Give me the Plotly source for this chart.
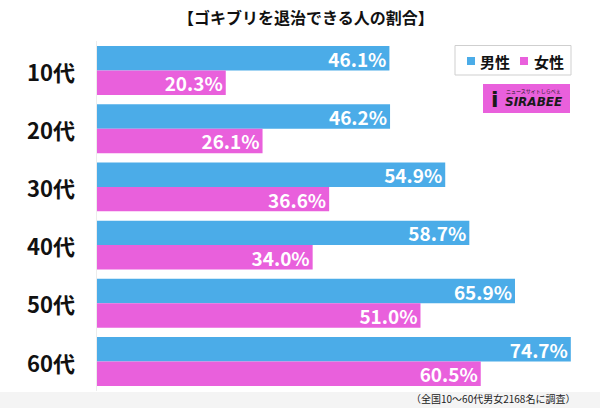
import plotly.graph_objects as go

categories = ["10代", "20代", "30代", "40代", "50代", "60代"]
male = [46.1, 46.2, 54.9, 58.7, 65.9, 74.7]
female = [20.3, 26.1, 36.6, 34.0, 51.0, 60.5]
series_names = ["男性", "女性"]
title_text = "【ゴキブリを退治できる人の割合】"
note_text = "（全国10～60代男女2168名に調査）"

BLUE = "#4BACE8"
PINK = "#E960DC"
FONT = "Noto Sans CJK JP"
W, H = 600, 408

def py(px):
    return 1 - px / H

def pxx(px):
    return px / W

fig = go.Figure()
for name, vals, col in [(series_names[0], male, BLUE), (series_names[1], female, PINK)]:
    fig.add_trace(go.Bar(
        y=categories, x=vals, name=name, orientation="h",
        marker=dict(color=col, line=dict(width=0)),
        text=[f"{v:.1f}%" for v in vals],
        textposition="inside", insidetextanchor="end",
        constraintext="none",
        textfont=dict(family=FONT, size=19, color="white", weight="bold"),
        hoverinfo="skip",
    ))

shapes = [
    dict(type="rect", xref="paper", yref="paper", x0=0, x1=1, y0=0, y1=py(392),
         fillcolor="#f4f4f4", line=dict(width=0), layer="below"),
    # legend box
    dict(type="rect", xref="paper", yref="paper", x0=pxx(455), x1=pxx(571),
         y0=py(75), y1=py(45.5), fillcolor="white", line=dict(color="#cfcfcf", width=1)),
    dict(type="rect", xref="paper", yref="paper", x0=pxx(467), x1=pxx(475),
         y0=py(65), y1=py(57), fillcolor=BLUE, line=dict(width=0)),
    dict(type="rect", xref="paper", yref="paper", x0=pxx(520), x1=pxx(528),
         y0=py(65), y1=py(57), fillcolor=PINK, line=dict(width=0)),
    # logo
    dict(type="rect", xref="paper", yref="paper", x0=pxx(483), x1=pxx(570),
         y0=py(113), y1=py(84), fillcolor=PINK, line=dict(width=0)),
]

fig.update_layout(
    width=W, height=H,
    margin=dict(l=0, r=0, t=0, b=0, autoexpand=False),
    paper_bgcolor="white", plot_bgcolor="white",
    barmode="group", bargap=0.16, bargroupgap=0,
    font=dict(family=FONT),
    showlegend=False,
    xaxis=dict(domain=[pxx(97), 1], range=[0, 79.3], visible=False, fixedrange=True),
    yaxis=dict(domain=[py(390.6), py(41.4)], autorange="reversed",
               showticklabels=False, showline=True, linecolor="#ececec", linewidth=1,
               showgrid=False, ticks=""),
    shapes=shapes,
)

annotations = [
    dict(text=f"<b>{title_text}</b>", x=pxx(306), y=py(17.5), xref="paper", yref="paper",
         xanchor="center", yanchor="middle", showarrow=False,
         font=dict(family=FONT, size=16, color="#111")),
    dict(text=note_text, x=pxx(577), y=py(398), xref="paper", yref="paper",
         xanchor="right", yanchor="middle", showarrow=False,
         font=dict(family=FONT, size=10, color="#222")),
    dict(text=f"<b>{series_names[0]}</b>", x=pxx(478), y=py(61), xref="paper", yref="paper",
         xanchor="left", yanchor="middle", showarrow=False,
         font=dict(family=FONT, size=15, color="#111")),
    dict(text=f"<b>{series_names[1]}</b>", x=pxx(532), y=py(61), xref="paper", yref="paper",
         xanchor="left", yanchor="middle", showarrow=False,
         font=dict(family=FONT, size=15, color="#111")),
    dict(text="<b><i>SIRABEE</i></b>", x=pxx(565), y=py(102), xref="paper", yref="paper",
         xanchor="right", yanchor="middle", showarrow=False,
         font=dict(family="DejaVu Sans", size=12, color="#1a1a1a")),
    dict(text="<b>i</b>", x=pxx(495), y=py(99), xref="paper", yref="paper",
         xanchor="center", yanchor="middle", showarrow=False,
         font=dict(family="DejaVu Sans", size=22, color="#1a1a1a")),
    dict(text="ニュースサイトしらべぇ", x=pxx(563), y=py(91), xref="paper", yref="paper",
         xanchor="right", yanchor="middle", showarrow=False,
         font=dict(family=FONT, size=5, color="#1a1a1a")),
]
for c in categories:
    annotations.append(dict(
        text=f"<b>{c}</b>", x=pxx(77), y=c, xref="paper", yref="y",
        xanchor="right", yanchor="middle", showarrow=False,
        font=dict(family=FONT, size=22, color="#111")))
fig.update_layout(annotations=annotations)

fig.write_html("out.html", config={"displayModeBar": False, "staticPlot": True},
               post_script="document.body.style.margin='0';document.body.style.padding='0';")
